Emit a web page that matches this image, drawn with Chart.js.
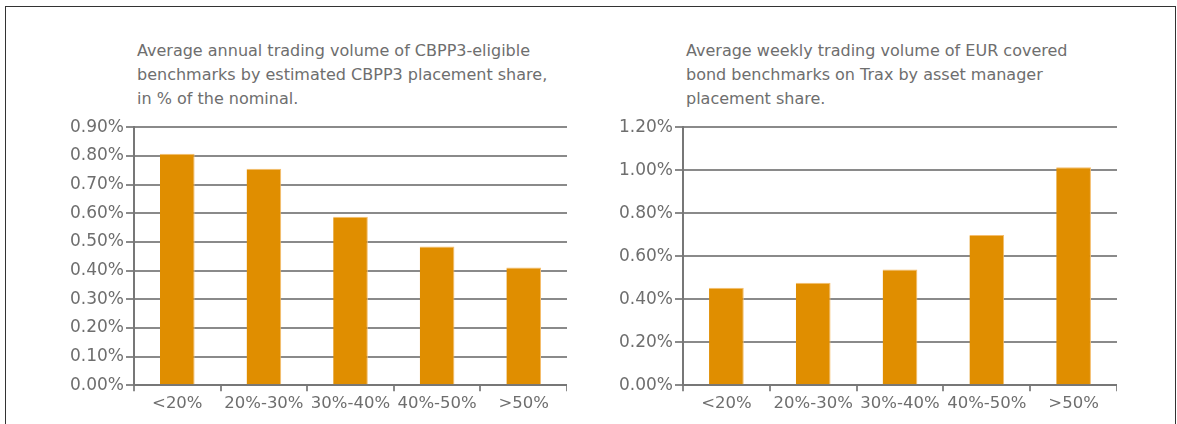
<!DOCTYPE html>
<html>
<head>
<meta charset="utf-8">
<script src="https://cdn.jsdelivr.net/npm/chart.js@4"></script>
<style>
  body { margin: 0; background: #fff; width: 1177px; height: 424px; overflow: hidden; position: relative; font-family: "DejaVu Sans", Verdana, sans-serif; }
  .frame { position: absolute; left: 5px; top: 6px; width: 1169px; height: 430px; border: 1px solid #333; }
  .title { position: absolute; color: #6e6e6e; font-size: 16px; line-height: 24px; }
  .box { position: absolute; }
</style>
</head>
<body>
<div class="frame"></div>

<div class="title" style="left:137px; top:39px;">Average annual trading volume of CBPP3-eligible<br>benchmarks by estimated CBPP3 placement share,<br>in % of the nominal.</div>
<div class="title" style="left:686px; top:39px;">Average weekly trading volume of EUR covered<br>bond benchmarks on Trax by asset manager<br>placement share.</div>

<div class="box" style="left:46px; top:115px; width:521px; height:302px;"><canvas id="leftChart"></canvas></div>
<div class="box" style="left:595px; top:115px; width:522px; height:302px;"><canvas id="rightChart"></canvas></div>

<script>
// categories shared by both panels
const categories = ['<20%', '20%-30%', '30%-40%', '40%-50%', '>50%'];

// left: CBPP3 placement share, annual volume in % of nominal
const cbpp3Volume = [0.807, 0.755, 0.588, 0.484, 0.411];
const leftTicksMax = 0.9;
const leftTicksStep = 0.1;

// right: asset manager placement share, weekly volume on Trax
const traxVolume = [0.453, 0.476, 0.538, 0.699, 1.014];
const rightTicksMax = 1.2;
const rightTicksStep = 0.2;

const barColor = 'rgb(224, 142, 0)';
const gridColor = '#8a8a8a';
const textColor = '#6e6e6e';

function makeChart(id, values, max, step, yWidth) {
    const ctx = document.getElementById(id).getContext('2d');
    return new Chart(ctx, {
        type: 'bar',
        data: {
            labels: categories,
            datasets: [{
                data: values,
                backgroundColor: barColor,
                borderColor: 'rgba(245, 190, 110, 1)',
                borderWidth: { top: 1, right: 1, left: 0, bottom: 0 },
                borderSkipped: 'bottom',
                categoryPercentage: 0.4,
                barPercentage: 1.0
            }]
        },
        options: {
            responsive: true,
            maintainAspectRatio: false,
            animation: false,
            layout: { padding: { top: 0, right: 0, left: 0, bottom: 0 } },
            plugins: {
                legend: { display: false },
                tooltip: { enabled: false }
            },
            scales: {
                x: {
                    grid: {
                        offset: true,
                        drawOnChartArea: false,
                        drawTicks: true,
                        tickLength: 6,
                        color: gridColor,
                        lineWidth: 2
                    },
                    border: { color: '#777', width: 2 },
                    ticks: {
                        color: textColor,
                        font: { family: 'DejaVu Sans', size: 16.5 },
                        padding: 3,
                        maxRotation: 0,
                        autoSkip: false
                    }
                },
                y: {
                    min: 0,
                    max: max,
                    afterFit: (scale) => { scale.width = yWidth; },
                    grid: {
                        color: gridColor,
                        lineWidth: 2,
                        tickLength: 8
                    },
                    border: { color: '#777', width: 2 },
                    ticks: {
                        stepSize: step,
                        color: textColor,
                        padding: 2,
                        font: { family: 'DejaVu Sans', size: 17 },
                        callback: (v) => v.toFixed(2) + '%'
                    }
                }
            }
        }
    });
}

makeChart('leftChart', cbpp3Volume, leftTicksMax, leftTicksStep, 88);
makeChart('rightChart', traxVolume, rightTicksMax, rightTicksStep, 88);
</script>
</body>
</html>
